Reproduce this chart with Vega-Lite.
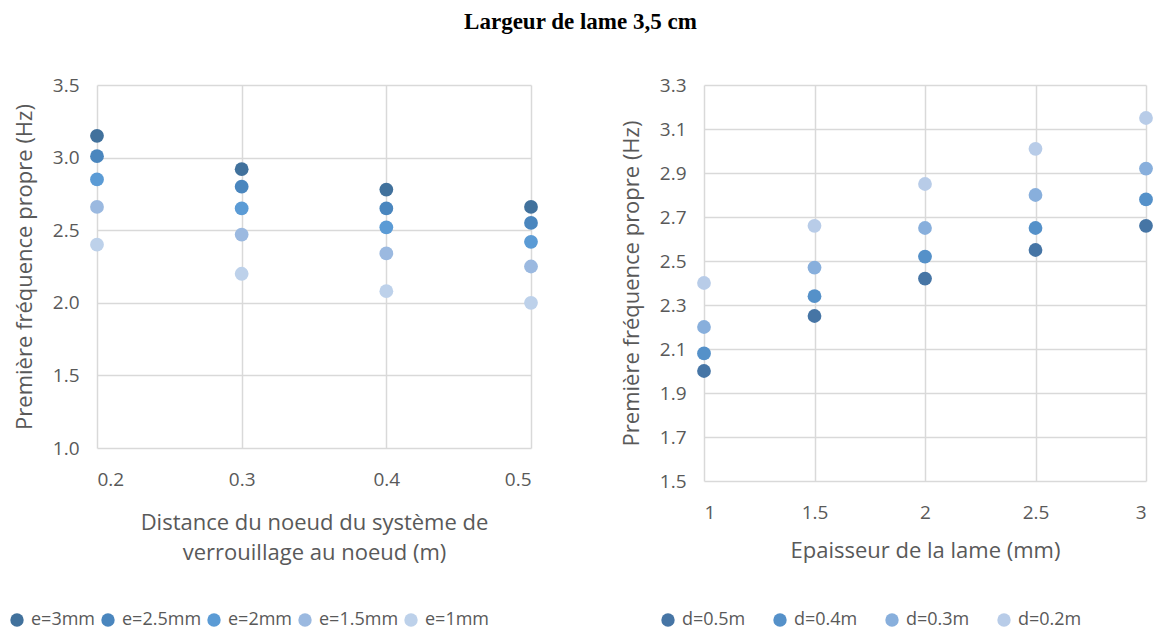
{
  "$schema": "https://vega.github.io/schema/vega-lite/v6.json",
  "background": "white",
  "padding": {"left": 8, "top": 11, "right": 4, "bottom": 0},
  "title": {"text": "Largeur de lame 3,5 cm", "font": "Liberation Serif", "fontSize": 23, "fontWeight": "bold", "color": "black", "anchor": "middle", "offset": 42, "frame": "bounds"},
  "datasets": {
    "left": [
      {"d": 0.2, "e": "e=3mm", "f": 3.15}, {"d": 0.2, "e": "e=2.5mm", "f": 3.01}, {"d": 0.2, "e": "e=2mm", "f": 2.85}, {"d": 0.2, "e": "e=1.5mm", "f": 2.66}, {"d": 0.2, "e": "e=1mm", "f": 2.40},
      {"d": 0.3, "e": "e=3mm", "f": 2.92}, {"d": 0.3, "e": "e=2.5mm", "f": 2.80}, {"d": 0.3, "e": "e=2mm", "f": 2.65}, {"d": 0.3, "e": "e=1.5mm", "f": 2.47}, {"d": 0.3, "e": "e=1mm", "f": 2.20},
      {"d": 0.4, "e": "e=3mm", "f": 2.78}, {"d": 0.4, "e": "e=2.5mm", "f": 2.65}, {"d": 0.4, "e": "e=2mm", "f": 2.52}, {"d": 0.4, "e": "e=1.5mm", "f": 2.34}, {"d": 0.4, "e": "e=1mm", "f": 2.08},
      {"d": 0.5, "e": "e=3mm", "f": 2.66}, {"d": 0.5, "e": "e=2.5mm", "f": 2.55}, {"d": 0.5, "e": "e=2mm", "f": 2.42}, {"d": 0.5, "e": "e=1.5mm", "f": 2.25}, {"d": 0.5, "e": "e=1mm", "f": 2.00}
    ],
    "right": [
      {"e": 1, "d": "d=0.5m", "f": 2.00}, {"e": 1, "d": "d=0.4m", "f": 2.08}, {"e": 1, "d": "d=0.3m", "f": 2.20}, {"e": 1, "d": "d=0.2m", "f": 2.40},
      {"e": 1.5, "d": "d=0.5m", "f": 2.25}, {"e": 1.5, "d": "d=0.4m", "f": 2.34}, {"e": 1.5, "d": "d=0.3m", "f": 2.47}, {"e": 1.5, "d": "d=0.2m", "f": 2.66},
      {"e": 2, "d": "d=0.5m", "f": 2.42}, {"e": 2, "d": "d=0.4m", "f": 2.52}, {"e": 2, "d": "d=0.3m", "f": 2.65}, {"e": 2, "d": "d=0.2m", "f": 2.85},
      {"e": 2.5, "d": "d=0.5m", "f": 2.55}, {"e": 2.5, "d": "d=0.4m", "f": 2.65}, {"e": 2.5, "d": "d=0.3m", "f": 2.80}, {"e": 2.5, "d": "d=0.2m", "f": 3.01},
      {"e": 3, "d": "d=0.5m", "f": 2.66}, {"e": 3, "d": "d=0.4m", "f": 2.78}, {"e": 3, "d": "d=0.3m", "f": 2.92}, {"e": 3, "d": "d=0.2m", "f": 3.15}
    ]
  },
  "config": {
    "view": {"stroke": null},
    "font": "Open Sans",
    "axis": {
      "labelFont": "Open Sans", "labelFontSize": 19, "labelColor": "#595959",
      "titleFont": "Open Sans", "titleFontSize": 22, "titleFontWeight": "normal", "titleColor": "#595959",
      "gridColor": "#D9D9D9", "gridWidth": 1.5, "domain": false, "ticks": false
    },
    "legend": {"labelFont": "Open Sans", "labelFontSize": 18, "labelColor": "#595959", "symbolType": "circle", "symbolSize": 180, "symbolStrokeWidth": 0, "orient": "none", "direction": "horizontal", "title": null, "labelOffset": 5}
  },
  "hconcat": [
    {
      "width": 434, "height": 363,
      "data": {"name": "left"},
      "mark": {"type": "point", "filled": true, "opacity": 1, "size": 190},
      "encoding": {
        "x": {"field": "d", "type": "quantitative", "scale": {"domain": [0.2, 0.5], "nice": false, "zero": false},
              "axis": {"values": [0.2, 0.3, 0.4, 0.5], "format": ".1f", "labelPadding": 22, "title": ["Distance du noeud du système de", "verrouillage au noeud (m)"], "titlePadding": 23, "titleLineHeight": 30}},
        "y": {"field": "f", "type": "quantitative", "scale": {"domain": [1, 3.5], "nice": false, "zero": false},
              "axis": {"values": [1, 1.5, 2, 2.5, 3, 3.5], "format": ".1f", "labelPadding": 18, "title": "Première fréquence propre (Hz)", "titlePadding": 16}},
        "color": {"field": "e", "type": "nominal",
                  "scale": {"domain": ["e=3mm", "e=2.5mm", "e=2mm", "e=1.5mm", "e=1mm"], "range": ["#41719C", "#4A86BE", "#5B9BD5", "#9BB9E0", "#BDD1EA"]},
                  "legend": {"legendX": -89, "legendY": 526, "columnPadding": 3}}
      }
    },
    {
      "width": 442, "height": 396,
      "data": {"name": "right"},
      "mark": {"type": "point", "filled": true, "opacity": 1, "size": 190},
      "encoding": {
        "x": {"field": "e", "type": "quantitative", "scale": {"domain": [1, 3], "nice": false, "zero": false},
              "axis": {"values": [1, 1.5, 2, 2.5, 3], "format": "~g", "labelPadding": 22, "title": "Epaisseur de la lame (mm)", "titlePadding": 18}},
        "y": {"field": "f", "type": "quantitative", "scale": {"domain": [1.5, 3.3], "nice": false, "zero": false},
              "axis": {"values": [1.5, 1.7, 1.9, 2.1, 2.3, 2.5, 2.7, 2.9, 3.1, 3.3], "format": ".1f", "labelPadding": 18, "title": "Première fréquence propre (Hz)", "titlePadding": 16}},
        "color": {"field": "d", "type": "nominal",
                  "scale": {"domain": ["d=0.5m", "d=0.4m", "d=0.3m", "d=0.2m"], "range": ["#4675A5", "#5591C9", "#88AFDC", "#B8CCE8"]},
                  "legend": {"legendX": -45, "legendY": 526, "columnPadding": 25}}
      }
    }
  ],
  "spacing": 82,
  "resolve": {"scale": {"color": "independent"}, "legend": {"color": "independent"}}
}
